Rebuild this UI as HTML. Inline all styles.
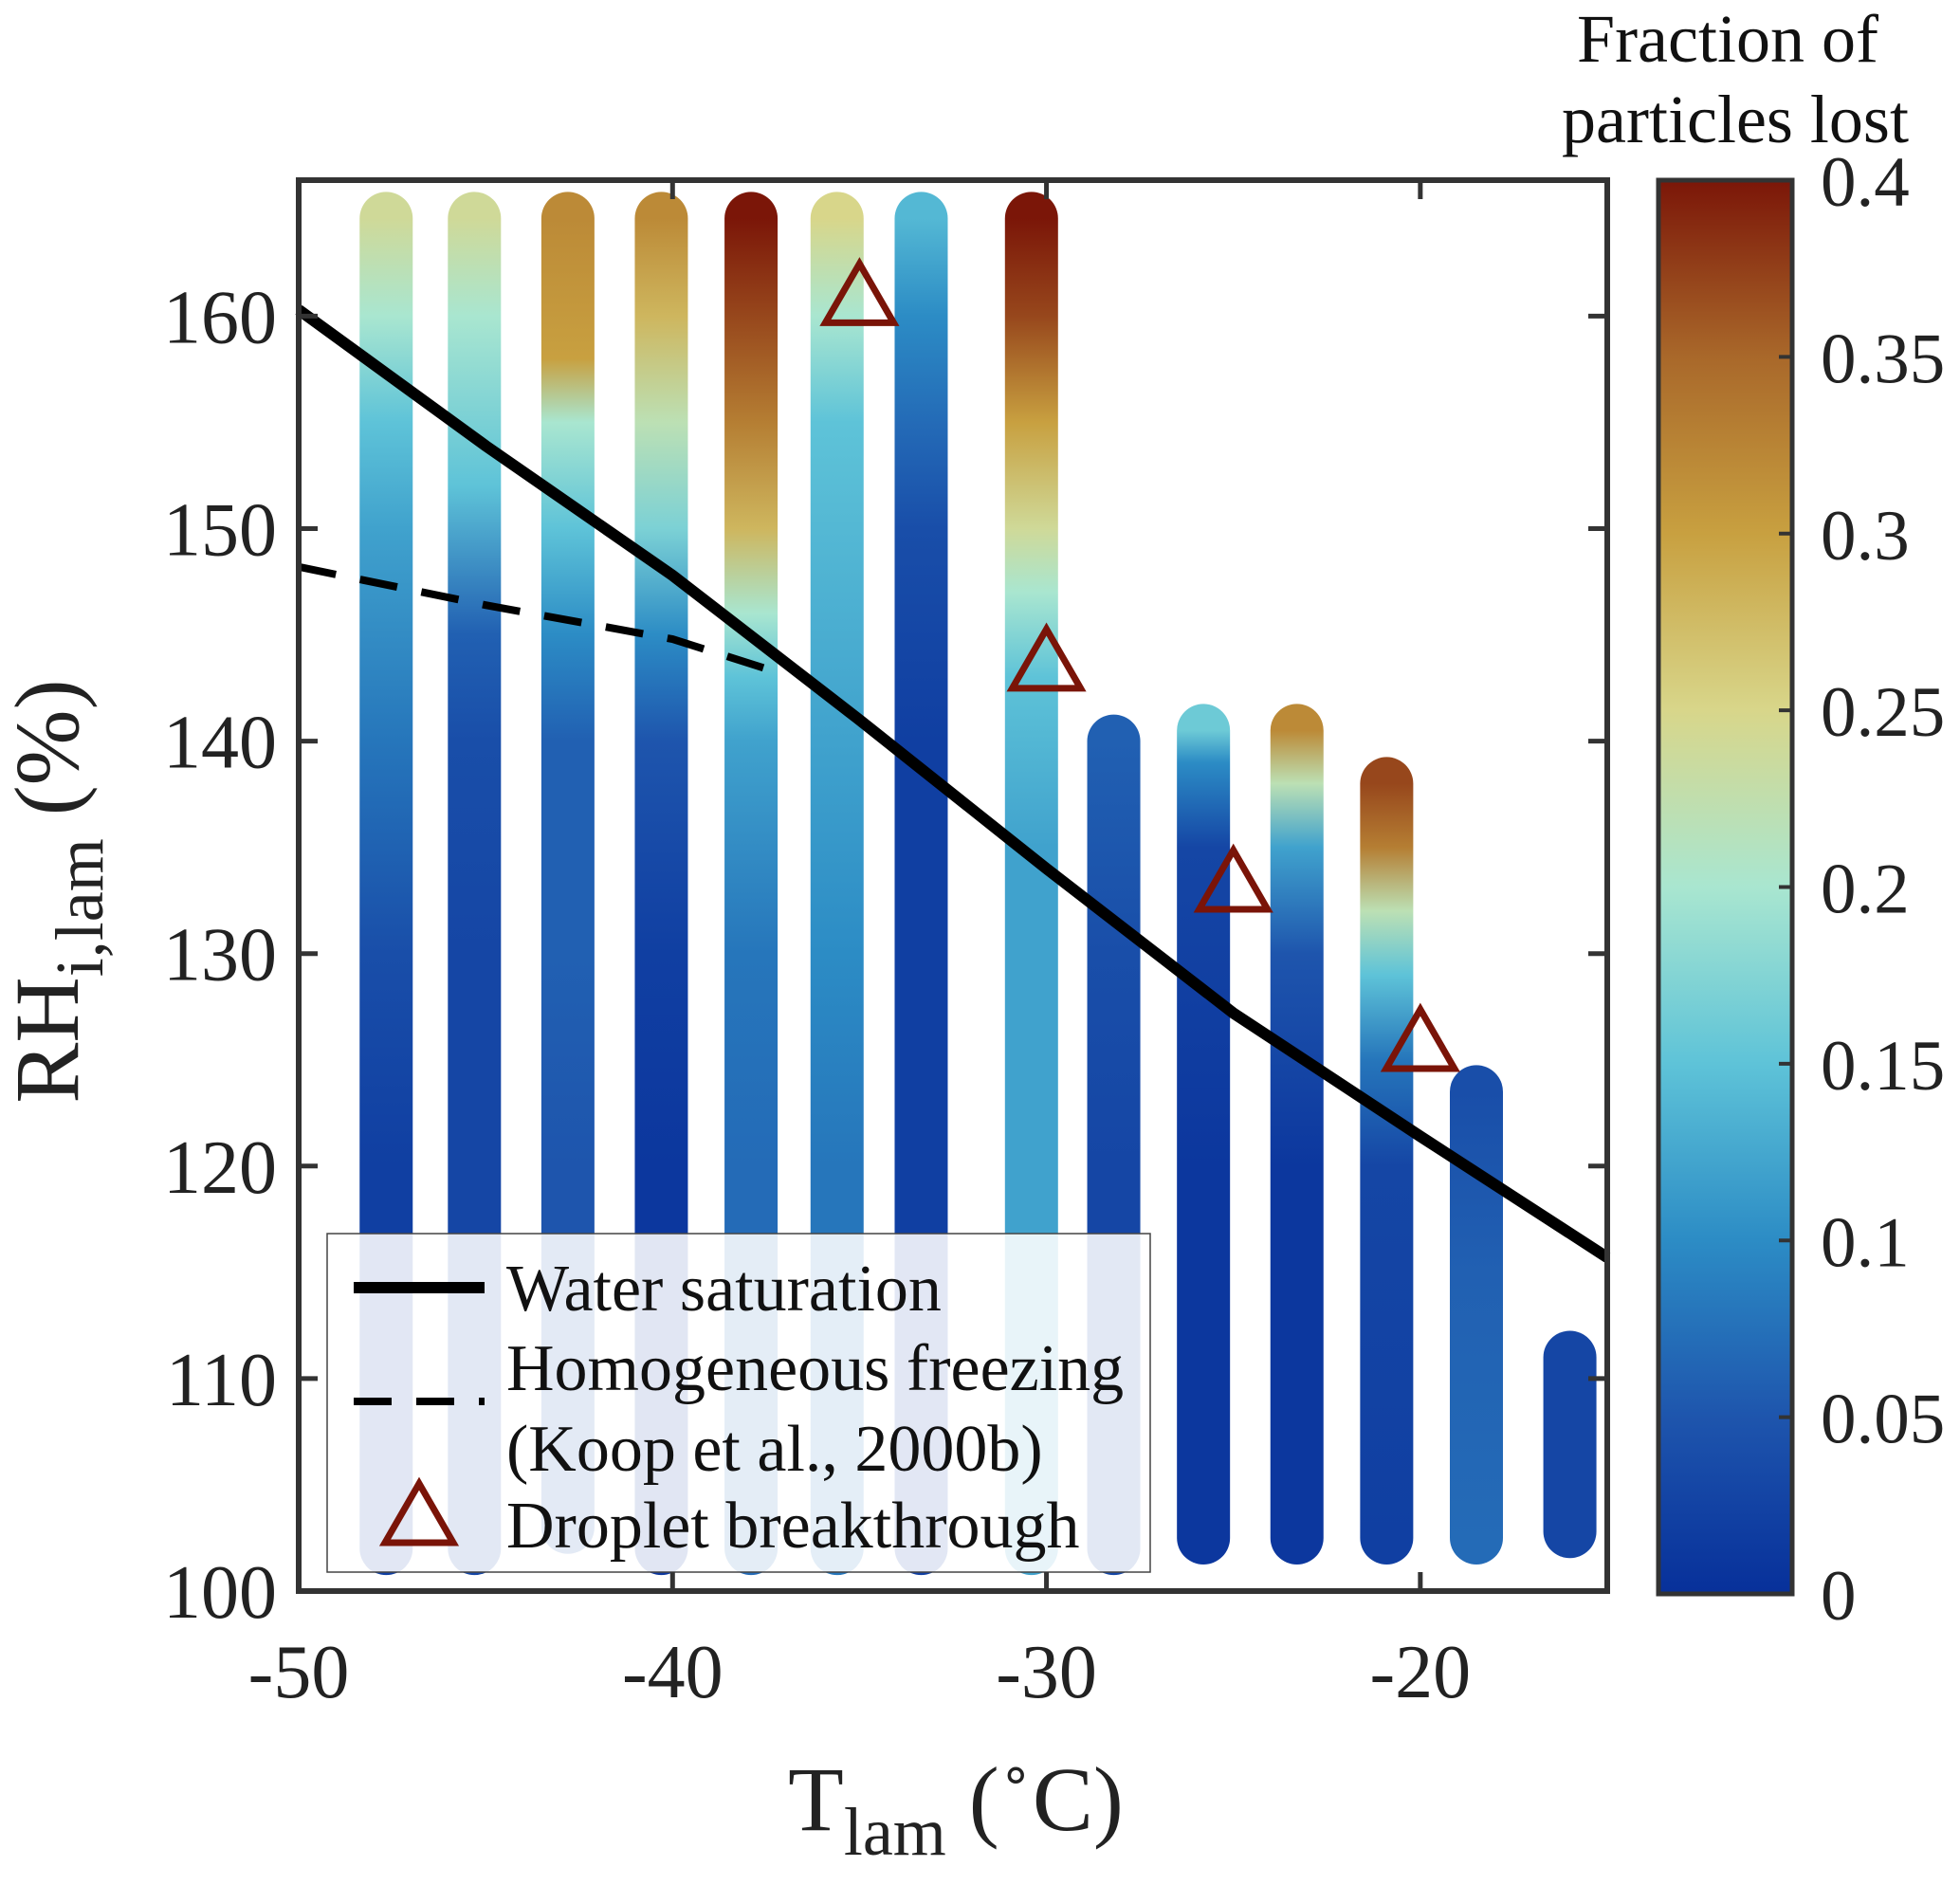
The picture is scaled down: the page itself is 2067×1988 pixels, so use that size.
<!DOCTYPE html>
<html><head><meta charset="utf-8"><style>
html,body{margin:0;padding:0;background:#fff;}
svg{display:block;font-family:"Liberation Serif",serif;}
</style></head><body>
<svg id="chart" width="2067" height="1988" viewBox="0 0 2067 1988" xmlns="http://www.w3.org/2000/svg">
<defs id="defs"></defs>
<g id="marks"></g>
<g id="overlay"></g>
</svg>
<script>
// ---- data ----
const colT = [-47.66,-45.3,-42.8,-40.3,-37.9,-35.6,-33.35,-30.4,-28.2,-25.8,-23.3,-20.9,-18.5,-16.0];
const colRH = [
 [164.6,160,155,150,140,130,120,110,102],
 [164.6,160,152,145,140,130,120,110,102],
 [164.6,158,155,150,145,140,130,120,103],
 [164.6,160,155,150,145,140,130,120,102],
 [164.6,160,155,150,146,143,140,130,120,102],
 [164.6,160,155,150,140,130,120,102],
 [164.6,160,155,150,140,120,102],
 [164.6,160,155,150,147,143,135,120,102],
 [140,130,120,102],
 [140.5,139,135,120,102.5],
 [140.5,138,135,130,120,102.5],
 [138,135,132,129,125,120,102.5],
 [123.5,115,102.5],
 [111,102.8]
];
const colFrac = [
 [0.24,0.2,0.15,0.12,0.08,0.04,0.02,0.02,0.02],
 [0.24,0.2,0.15,0.06,0.04,0.03,0.03,0.03,0.03],
 [0.32,0.3,0.2,0.15,0.1,0.06,0.06,0.05,0.05],
 [0.32,0.28,0.22,0.17,0.1,0.05,0.02,0.01,0.01],
 [0.4,0.37,0.33,0.28,0.2,0.15,0.12,0.08,0.07,0.07],
 [0.25,0.2,0.15,0.14,0.12,0.1,0.08,0.08],
 [0.14,0.1,0.07,0.04,0.02,0.02,0.02],
 [0.4,0.37,0.3,0.24,0.2,0.15,0.12,0.12,0.12],
 [0.06,0.04,0.03,0.03],
 [0.16,0.1,0.03,0.01,0.01],
 [0.32,0.22,0.12,0.05,0.01,0.01],
 [0.37,0.33,0.22,0.15,0.08,0.03,0.02],
 [0.04,0.06,0.07],
 [0.03,0.03]
];
const waterT = [-50,-45,-40,-35,-30,-25,-20,-15];
const waterRH = [160.3,153.9,147.8,141.0,134.0,127.2,121.4,115.7];
const homT = [-50,-45,-40,-37.3];
const homRH = [148.2,146.4,144.8,143.3];
const triT = [-35,-30,-25,-20];
const triRH = [160.8,143.6,133.2,125.7];
const xTicks = [-50,-40,-30,-20];
const yTicks = [100,110,120,130,140,150,160];
const cbTicks = [0,0.05,0.1,0.15,0.2,0.25,0.3,0.35,0.4];
const cbLabels = ["0","0.05","0.1","0.15","0.2","0.25","0.3","0.35","0.4"];

// ---- geometry ----
const X0=315,X1=1695,Y0=1678,Y1=190;
const xMin=-50,xMax=-15,yMin=100,yMax=166.4;
const sx=v=>X0+(v-xMin)/(xMax-xMin)*(X1-X0);
const sy=v=>Y0-(v-yMin)/(yMax-yMin)*(Y0-Y1);
const CB={x0:1749,x1:1890,y0:1681,y1:190};
const cby=v=>CB.y0-v/0.4*(CB.y0-CB.y1);
const cmapStops=[[0,"#07309a"],[0.05,"#1e55ad"],[0.1,"#2c8cc5"],[0.15,"#5ec3d8"],[0.2,"#a9e6d0"],[0.25,"#d8d68a"],[0.3,"#c8a040"],[0.35,"#a9682a"],[0.4,"#7b1608"]];
function hex(h){return [1,3,5].map(i=>parseInt(h.substr(i,2),16));}
function cmap(v){v=Math.max(0,Math.min(0.4,v));
 for(let i=0;i<cmapStops.length-1;i++){const a=cmapStops[i],b=cmapStops[i+1];
  if(v<=b[0]){const t=(v-a[0])/(b[0]-a[0]);const ca=hex(a[1]),cb=hex(b[1]);
   return "rgb("+ca.map((c,k)=>Math.round(c+(cb[k]-c)*t)).join(",")+")";}}
 return cmapStops[cmapStops.length-1][1];}

const NS="http://www.w3.org/2000/svg";
const svg=document.getElementById('chart'),defs=document.getElementById('defs');
const marks=document.getElementById('marks'),ov=document.getElementById('overlay');
function mk(tag,attrs,parent){const e=document.createElementNS(NS,tag);for(const k in attrs)e.setAttribute(k,attrs[k]);(parent||svg).appendChild(e);return e;}

// columns
colT.forEach((t,i)=>{
 const rh=colRH[i],fr=colFrac[i];
 const top=Math.max(...rh),bot=Math.min(...rh);
 const g=mk('linearGradient',{id:'cg'+i,gradientUnits:'userSpaceOnUse',x1:0,x2:0,y1:sy(top),y2:sy(bot)},defs);
 rh.forEach((r,j)=>{const off=top===bot?0:(top-r)/(top-bot);mk('stop',{offset:off,'stop-color':cmap(fr[j])},g);});
 const l=mk('line',{x1:sx(t),x2:sx(t),y1:sy(top),y2:sy(bot),stroke:'url(#cg'+i+')','stroke-width':56,'stroke-linecap':'round'},marks);
 
 
});

// water saturation
let wp=waterT.map((t,i)=>sx(t)+","+sy(waterRH[i])).join(" ");
const wl=mk('polyline',{points:wp,fill:'none',stroke:'#000','stroke-width':12},marks);


let hp=homT.map((t,i)=>sx(t)+","+sy(homRH[i])).join(" ");
const hl=mk('polyline',{points:hp,fill:'none',stroke:'#000','stroke-width':8,'stroke-dasharray':'40 26'},marks);


function tri(cx,cy,s,parent){const h=s*0.866;return mk('polygon',{points:`${cx},${cy-h*0.6} ${cx-s/2},${cy+h*0.4} ${cx+s/2},${cy+h*0.4}`,fill:'none',stroke:'#7a1408','stroke-width':7,'stroke-linejoin':'miter'},parent);}
triT.forEach((t,i)=>{const p=tri(sx(t),sy(triRH[i]),72,marks);
 
 });

// legend
const lg=mk('g',{},ov);


mk('rect',{x:345,y:1301,width:868,height:357,fill:'#fff','fill-opacity':0.88,stroke:'#444','stroke-width':1.5},lg);
mk('line',{x1:373,x2:511,y1:1358,y2:1358,stroke:'#000','stroke-width':12},lg);
mk('line',{x1:373,x2:511,y1:1478,y2:1478,stroke:'#000','stroke-width':8,'stroke-dasharray':'40 26'},lg);
tri(442,1602,72,lg);
const legTexts=[["Water saturation",1382,'legend-water-saturation'],["Homogeneous freezing",1466,'legend-homogeneous-freezing'],["(Koop et al., 2000b)",1551,'legend-koop-reference'],["Droplet breakthrough",1632,'legend-droplet-breakthrough']];
legTexts.forEach(a=>{const t=mk('text',{x:534,y:a[1],'font-size':70,fill:'#111'},lg);t.textContent=a[0];
 
 });

// frame & ticks
const fr=mk('rect',{x:X0,y:Y1,width:X1-X0,height:Y0-Y1,fill:'none',stroke:'#333','stroke-width':6},ov);


xTicks.forEach(v=>{const x=sx(v);
 mk('line',{x1:x,x2:x,y1:Y0,y2:Y0-20,stroke:'#333','stroke-width':5},ov);
 mk('line',{x1:x,x2:x,y1:Y1,y2:Y1+20,stroke:'#333','stroke-width':5},ov);
 const t=mk('text',{x:x,y:1790,'font-size':80,'text-anchor':'middle',fill:'#222'},ov);t.textContent=String(v);
 
 });
yTicks.forEach(v=>{const y=sy(v);
 mk('line',{x1:X0,x2:X0+20,y1:y,y2:y,stroke:'#333','stroke-width':5},ov);
 mk('line',{x1:X1,x2:X1-20,y1:y,y2:y,stroke:'#333','stroke-width':5},ov);
 const t=mk('text',{x:292,y:y+28,'font-size':80,'text-anchor':'end',fill:'#222'},ov);t.textContent=String(v);
 
 });

// colorbar
const cg=mk('linearGradient',{id:'cbg',x1:0,x2:0,y1:1,y2:0},defs);
cmapStops.forEach(s=>mk('stop',{offset:s[0]/0.4,'stop-color':s[1]},cg));
const cbr=mk('rect',{x:CB.x0,y:CB.y1,width:CB.x1-CB.x0,height:CB.y0-CB.y1,fill:'url(#cbg)',stroke:'#333','stroke-width':5},ov);


cbTicks.forEach((v,i)=>{const y=cby(v);
 mk('line',{x1:CB.x1,x2:CB.x1-14,y1:y,y2:y,stroke:'#333','stroke-width':4},ov);
 const t=mk('text',{x:1920,y:y+27,'font-size':75,fill:'#222'},ov);t.textContent=cbLabels[i];
 
 });
</script>
<svg style="position:absolute;left:0;top:0" width="2067" height="1988">
<text x="1822" y="65" font-size="72" text-anchor="middle" fill="#111" font-family="Liberation Serif, serif">Fraction of</text>
<text x="1830" y="150" font-size="72" text-anchor="middle" fill="#111" font-family="Liberation Serif, serif">particles lost</text>
<text x="1008" y="1930" font-size="96" text-anchor="middle" fill="#222" font-family="Liberation Serif, serif">T<tspan font-size="72" dy="26">lam</tspan><tspan dy="-26"> (</tspan><tspan font-size="56" dy="-40">∘</tspan><tspan dy="40">C)</tspan></text>
<text transform="translate(82,940) rotate(-90)" font-size="96" text-anchor="middle" fill="#222" font-family="Liberation Serif, serif">RH<tspan font-size="72" dy="26">i,lam</tspan><tspan dy="-26"> (%)</tspan></text>
</svg>
</body></html>
